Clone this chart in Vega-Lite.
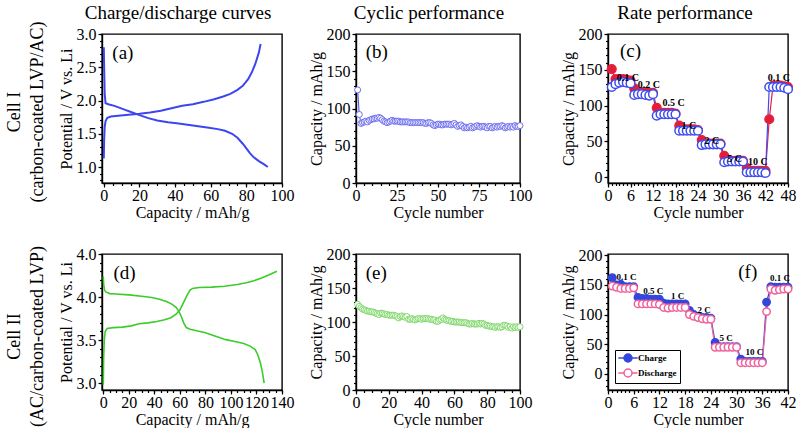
{
"$schema":"https://vega.github.io/schema/vega-lite/v6.json",
"padding":{"left":6,"top":3,"right":0,"bottom":0},
"config":{
 "font":"Liberation Serif",
 "view":{"stroke":"#000","strokeWidth":1.4},
 "axis":{"labelFont":"Liberation Serif","titleFont":"Liberation Serif","labelFontSize":16,"titleFontSize":16,"titleFontWeight":"normal","labelColor":"#000","titleColor":"#000","domainColor":"#000","domainWidth":1.4,"tickColor":"#000","tickWidth":1.2,"grid":false,"labelFlush":false,"tickSize":4},
 "axisX":{"labelPadding":0,"titlePadding":1},
 "axisY":{"labelPadding":2,"titlePadding":2},
 "title":{"font":"Liberation Serif","fontSize":18,"fontWeight":"normal","color":"#000"}
},
"datasets":{
 "a":[
  {"s":"ch","x":0,"y":1.13},{"s":"ch","x":0.2,"y":1.4},{"s":"ch","x":0.5,"y":1.6},{"s":"ch","x":1,"y":1.69},{"s":"ch","x":2,"y":1.74},{"s":"ch","x":4,"y":1.76},{"s":"ch","x":8,"y":1.77},{"s":"ch","x":14,"y":1.785},{"s":"ch","x":20,"y":1.8},{"s":"ch","x":26,"y":1.82},{"s":"ch","x":32,"y":1.845},{"s":"ch","x":38,"y":1.885},{"s":"ch","x":44,"y":1.92},{"s":"ch","x":50,"y":1.945},{"s":"ch","x":56,"y":1.98},{"s":"ch","x":62,"y":2.02},{"s":"ch","x":67,"y":2.06},{"s":"ch","x":71,"y":2.1},{"s":"ch","x":75,"y":2.16},{"s":"ch","x":78,"y":2.22},{"s":"ch","x":81,"y":2.32},{"s":"ch","x":83,"y":2.42},{"s":"ch","x":85,"y":2.55},{"s":"ch","x":87,"y":2.72},{"s":"ch","x":88,"y":2.85},
  {"s":"dis","x":0,"y":2.8},{"s":"dis","x":0.2,"y":2.5},{"s":"dis","x":0.5,"y":2.1},{"s":"dis","x":1,"y":1.96},{"s":"dis","x":3,"y":1.94},{"s":"dis","x":6,"y":1.92},{"s":"dis","x":9,"y":1.89},{"s":"dis","x":12,"y":1.86},{"s":"dis","x":16,"y":1.82},{"s":"dis","x":20,"y":1.78},{"s":"dis","x":25,"y":1.735},{"s":"dis","x":30,"y":1.7},{"s":"dis","x":36,"y":1.675},{"s":"dis","x":42,"y":1.655},{"s":"dis","x":50,"y":1.625},{"s":"dis","x":58,"y":1.595},{"s":"dis","x":64,"y":1.57},{"s":"dis","x":68,"y":1.545},{"s":"dis","x":72,"y":1.5},{"s":"dis","x":75,"y":1.44},{"s":"dis","x":78,"y":1.35},{"s":"dis","x":80,"y":1.28},{"s":"dis","x":82,"y":1.21},{"s":"dis","x":84,"y":1.15},{"s":"dis","x":87,"y":1.09},{"s":"dis","x":90,"y":1.04},{"s":"dis","x":92,"y":1.0}
 ],
 "d":[
  {"s":"ch","x":0,"y":2.98},{"s":"ch","x":0.3,"y":3.3},{"s":"ch","x":0.8,"y":3.5},{"s":"ch","x":1.5,"y":3.6},{"s":"ch","x":3,"y":3.635},{"s":"ch","x":8,"y":3.645},{"s":"ch","x":15,"y":3.65},{"s":"ch","x":22,"y":3.665},{"s":"ch","x":28,"y":3.69},{"s":"ch","x":35,"y":3.7},{"s":"ch","x":42,"y":3.715},{"s":"ch","x":48,"y":3.735},{"s":"ch","x":53,"y":3.76},{"s":"ch","x":57,"y":3.8},{"s":"ch","x":60,"y":3.85},{"s":"ch","x":62,"y":3.91},{"s":"ch","x":64,"y":3.97},{"s":"ch","x":66,"y":4.03},{"s":"ch","x":68,"y":4.08},{"s":"ch","x":70,"y":4.1},{"s":"ch","x":75,"y":4.11},{"s":"ch","x":85,"y":4.115},{"s":"ch","x":95,"y":4.125},{"s":"ch","x":105,"y":4.145},{"s":"ch","x":112,"y":4.165},{"s":"ch","x":118,"y":4.19},{"s":"ch","x":124,"y":4.22},{"s":"ch","x":130,"y":4.26},{"s":"ch","x":136,"y":4.3},
  {"s":"dis","x":0,"y":4.24},{"s":"dis","x":0.3,"y":4.15},{"s":"dis","x":1,"y":4.08},{"s":"dis","x":2,"y":4.06},{"s":"dis","x":5,"y":4.04},{"s":"dis","x":10,"y":4.035},{"s":"dis","x":20,"y":4.025},{"s":"dis","x":30,"y":4.01},{"s":"dis","x":38,"y":3.995},{"s":"dis","x":44,"y":3.975},{"s":"dis","x":50,"y":3.945},{"s":"dis","x":54,"y":3.915},{"s":"dis","x":57,"y":3.88},{"s":"dis","x":59,"y":3.84},{"s":"dis","x":61,"y":3.78},{"s":"dis","x":63,"y":3.7},{"s":"dis","x":65,"y":3.645},{"s":"dis","x":68,"y":3.625},{"s":"dis","x":74,"y":3.605},{"s":"dis","x":80,"y":3.585},{"s":"dis","x":88,"y":3.545},{"s":"dis","x":96,"y":3.505},{"s":"dis","x":104,"y":3.48},{"s":"dis","x":110,"y":3.46},{"s":"dis","x":115,"y":3.43},{"s":"dis","x":119,"y":3.39},{"s":"dis","x":121,"y":3.33},{"s":"dis","x":123,"y":3.24},{"s":"dis","x":124.5,"y":3.14},{"s":"dis","x":125.5,"y":3.05},{"s":"dis","x":126,"y":3.0}
 ],
 "b":[
  {"c":1,"v":125},{"c":2,"v":92},{"c":3,"v":80},{"c":4,"v":81},{"c":5,"v":82},{"c":6,"v":83},{"c":7,"v":82},{"c":8,"v":84},{"c":9,"v":85},{"c":10,"v":86},
  {"c":11,"v":86},{"c":12,"v":87},{"c":13,"v":87},{"c":14,"v":88},{"c":15,"v":87},{"c":16,"v":85},{"c":17,"v":83},{"c":18,"v":82},{"c":19,"v":81},{"c":20,"v":82},
  {"c":21,"v":83},{"c":22,"v":84},{"c":23,"v":83},{"c":24,"v":83},{"c":25,"v":83},{"c":26,"v":83},{"c":27,"v":82},{"c":28,"v":82},{"c":29,"v":82},{"c":30,"v":82},
  {"c":31,"v":82},{"c":32,"v":82},{"c":33,"v":81},{"c":34,"v":81},{"c":35,"v":81},{"c":36,"v":81},{"c":37,"v":81},{"c":38,"v":81},{"c":39,"v":81},{"c":40,"v":81},
  {"c":41,"v":81},{"c":42,"v":80},{"c":43,"v":80},{"c":44,"v":81},{"c":45,"v":81},{"c":46,"v":80},{"c":47,"v":78},{"c":48,"v":77},{"c":49,"v":78},{"c":50,"v":79},
  {"c":51,"v":79},{"c":52,"v":78},{"c":53,"v":78},{"c":54,"v":79},{"c":55,"v":79},{"c":56,"v":79},{"c":57,"v":79},{"c":58,"v":78},{"c":59,"v":79},{"c":60,"v":80},
  {"c":61,"v":78},{"c":62,"v":76},{"c":63,"v":77},{"c":64,"v":78},{"c":65,"v":76},{"c":66,"v":74},{"c":67,"v":75},{"c":68,"v":74},{"c":69,"v":75},{"c":70,"v":76},
  {"c":71,"v":74},{"c":72,"v":75},{"c":73,"v":76},{"c":74,"v":77},{"c":75,"v":76},{"c":76,"v":75},{"c":77,"v":76},{"c":78,"v":76},{"c":79,"v":75},{"c":80,"v":74},
  {"c":81,"v":76},{"c":82,"v":76},{"c":83,"v":74},{"c":84,"v":75},{"c":85,"v":76},{"c":86,"v":75},{"c":87,"v":76},{"c":88,"v":76},{"c":89,"v":77},{"c":90,"v":76},
  {"c":91,"v":74},{"c":92,"v":75},{"c":93,"v":76},{"c":94,"v":75},{"c":95,"v":76},{"c":96,"v":75},{"c":97,"v":77},{"c":98,"v":76},{"c":99,"v":76},{"c":100,"v":77}
 ],
 "e":[
  {"c":1,"v":126},{"c":2,"v":123},{"c":3,"v":121},{"c":4,"v":119},{"c":5,"v":118},{"c":6,"v":117},{"c":7,"v":116},{"c":8,"v":116},{"c":9,"v":115},{"c":10,"v":115},
  {"c":11,"v":114},{"c":12,"v":113},{"c":13,"v":112},{"c":14,"v":111},{"c":15,"v":113},{"c":16,"v":113},{"c":17,"v":112},{"c":18,"v":111},{"c":19,"v":111},{"c":20,"v":110},
  {"c":21,"v":110},{"c":22,"v":110},{"c":23,"v":110},{"c":24,"v":109},{"c":25,"v":108},{"c":26,"v":106},{"c":27,"v":108},{"c":28,"v":109},{"c":29,"v":108},{"c":30,"v":107},
  {"c":31,"v":108},{"c":32,"v":104},{"c":33,"v":104},{"c":34,"v":105},{"c":35,"v":104},{"c":36,"v":103},{"c":37,"v":104},{"c":38,"v":105},{"c":39,"v":105},{"c":40,"v":104},
  {"c":41,"v":105},{"c":42,"v":105},{"c":43,"v":105},{"c":44,"v":105},{"c":45,"v":104},{"c":46,"v":104},{"c":47,"v":103},{"c":48,"v":103},{"c":49,"v":101},{"c":50,"v":101},
  {"c":51,"v":103},{"c":52,"v":104},{"c":53,"v":106},{"c":54,"v":104},{"c":55,"v":103},{"c":56,"v":102},{"c":57,"v":102},{"c":58,"v":101},{"c":59,"v":101},{"c":60,"v":100},
  {"c":61,"v":100},{"c":62,"v":100},{"c":63,"v":100},{"c":64,"v":99},{"c":65,"v":99},{"c":66,"v":99},{"c":67,"v":99},{"c":68,"v":98},{"c":69,"v":97},{"c":70,"v":97},
  {"c":71,"v":98},{"c":72,"v":97},{"c":73,"v":97},{"c":74,"v":97},{"c":75,"v":98},{"c":76,"v":97},{"c":77,"v":98},{"c":78,"v":97},{"c":79,"v":95},{"c":80,"v":95},
  {"c":81,"v":94},{"c":82,"v":94},{"c":83,"v":93},{"c":84,"v":93},{"c":85,"v":92},{"c":86,"v":93},{"c":87,"v":93},{"c":88,"v":92},{"c":89,"v":93},{"c":90,"v":95},
  {"c":91,"v":95},{"c":92,"v":94},{"c":93,"v":92},{"c":94,"v":93},{"c":95,"v":91},{"c":96,"v":93},{"c":97,"v":92},{"c":98,"v":93},{"c":99,"v":92},{"c":100,"v":93}
 ],
 "c":[
  {"s":"R","c":1,"v":151},{"s":"R","c":2,"v":137},{"s":"R","c":3,"v":137},{"s":"R","c":4,"v":137},{"s":"R","c":5,"v":136},{"s":"R","c":6,"v":135},
  {"s":"R","c":7,"v":124},{"s":"R","c":8,"v":119},{"s":"R","c":9,"v":119},{"s":"R","c":10,"v":119},{"s":"R","c":11,"v":118},{"s":"R","c":12,"v":118},
  {"s":"R","c":13,"v":97},{"s":"R","c":14,"v":90},{"s":"R","c":15,"v":90},{"s":"R","c":16,"v":90},{"s":"R","c":17,"v":90},{"s":"R","c":18,"v":89},
  {"s":"R","c":19,"v":72},{"s":"R","c":20,"v":67},{"s":"R","c":21,"v":67},{"s":"R","c":22,"v":67},{"s":"R","c":23,"v":67},{"s":"R","c":24,"v":66},
  {"s":"R","c":25,"v":52},{"s":"R","c":26,"v":47},{"s":"R","c":27,"v":47},{"s":"R","c":28,"v":47},{"s":"R","c":29,"v":47},{"s":"R","c":30,"v":47},
  {"s":"R","c":31,"v":30},{"s":"R","c":32,"v":23},{"s":"R","c":33,"v":23},{"s":"R","c":34,"v":23},{"s":"R","c":35,"v":23},{"s":"R","c":36,"v":23},
  {"s":"R","c":37,"v":13},{"s":"R","c":38,"v":9},{"s":"R","c":39,"v":9},{"s":"R","c":40,"v":9},{"s":"R","c":41,"v":9},{"s":"R","c":42,"v":9},
  {"s":"R","c":43,"v":81},{"s":"R","c":44,"v":128},{"s":"R","c":45,"v":128},{"s":"R","c":46,"v":128},{"s":"R","c":47,"v":127},{"s":"R","c":48,"v":126},
  {"s":"B","c":1,"v":126},{"s":"B","c":2,"v":130},{"s":"B","c":3,"v":132},{"s":"B","c":4,"v":133},{"s":"B","c":5,"v":132},{"s":"B","c":6,"v":131},
  {"s":"B","c":7,"v":115},{"s":"B","c":8,"v":116},{"s":"B","c":9,"v":116},{"s":"B","c":10,"v":115},{"s":"B","c":11,"v":114},{"s":"B","c":12,"v":116},
  {"s":"B","c":13,"v":86},{"s":"B","c":14,"v":88},{"s":"B","c":15,"v":88},{"s":"B","c":16,"v":88},{"s":"B","c":17,"v":88},{"s":"B","c":18,"v":88},
  {"s":"B","c":19,"v":65},{"s":"B","c":20,"v":65},{"s":"B","c":21,"v":65},{"s":"B","c":22,"v":65},{"s":"B","c":23,"v":65},{"s":"B","c":24,"v":65},
  {"s":"B","c":25,"v":45},{"s":"B","c":26,"v":46},{"s":"B","c":27,"v":46},{"s":"B","c":28,"v":46},{"s":"B","c":29,"v":46},{"s":"B","c":30,"v":46},
  {"s":"B","c":31,"v":21},{"s":"B","c":32,"v":22},{"s":"B","c":33,"v":22},{"s":"B","c":34,"v":22},{"s":"B","c":35,"v":22},{"s":"B","c":36,"v":22},
  {"s":"B","c":37,"v":7},{"s":"B","c":38,"v":7},{"s":"B","c":39,"v":7},{"s":"B","c":40,"v":7},{"s":"B","c":41,"v":7},{"s":"B","c":42,"v":6},
  {"s":"B","c":43,"v":126},{"s":"B","c":44,"v":126},{"s":"B","c":45,"v":126},{"s":"B","c":46,"v":126},{"s":"B","c":47,"v":125},{"s":"B","c":48,"v":123}
 ],
 "f":[
  {"s":"Charge","c":1,"v":162},{"s":"Charge","c":2,"v":150},{"s":"Charge","c":3,"v":151},{"s":"Charge","c":4,"v":147},{"s":"Charge","c":5,"v":147},{"s":"Charge","c":6,"v":147},
  {"s":"Charge","c":7,"v":129},{"s":"Charge","c":8,"v":127},{"s":"Charge","c":9,"v":127},{"s":"Charge","c":10,"v":126},{"s":"Charge","c":11,"v":126},{"s":"Charge","c":12,"v":126},
  {"s":"Charge","c":13,"v":119},{"s":"Charge","c":14,"v":118},{"s":"Charge","c":15,"v":118},{"s":"Charge","c":16,"v":118},{"s":"Charge","c":17,"v":118},{"s":"Charge","c":18,"v":118},
  {"s":"Charge","c":19,"v":107},{"s":"Charge","c":20,"v":100},{"s":"Charge","c":21,"v":97},{"s":"Charge","c":22,"v":95},{"s":"Charge","c":23,"v":95},{"s":"Charge","c":24,"v":94},
  {"s":"Charge","c":25,"v":53},{"s":"Charge","c":26,"v":46},{"s":"Charge","c":27,"v":46},{"s":"Charge","c":28,"v":46},{"s":"Charge","c":29,"v":46},{"s":"Charge","c":30,"v":46},
  {"s":"Charge","c":31,"v":25},{"s":"Charge","c":32,"v":21},{"s":"Charge","c":33,"v":21},{"s":"Charge","c":34,"v":21},{"s":"Charge","c":35,"v":21},{"s":"Charge","c":36,"v":21},
  {"s":"Charge","c":37,"v":121},{"s":"Charge","c":38,"v":147},{"s":"Charge","c":39,"v":146},{"s":"Charge","c":40,"v":146},{"s":"Charge","c":41,"v":146},{"s":"Charge","c":42,"v":146},
  {"s":"Discharge","c":1,"v":148},{"s":"Discharge","c":2,"v":146},{"s":"Discharge","c":3,"v":144},{"s":"Discharge","c":4,"v":144},{"s":"Discharge","c":5,"v":144},{"s":"Discharge","c":6,"v":145},
  {"s":"Discharge","c":7,"v":118},{"s":"Discharge","c":8,"v":118},{"s":"Discharge","c":9,"v":118},{"s":"Discharge","c":10,"v":118},{"s":"Discharge","c":11,"v":118},{"s":"Discharge","c":12,"v":117},
  {"s":"Discharge","c":13,"v":112},{"s":"Discharge","c":14,"v":111},{"s":"Discharge","c":15,"v":112},{"s":"Discharge","c":16,"v":112},{"s":"Discharge","c":17,"v":112},{"s":"Discharge","c":18,"v":112},
  {"s":"Discharge","c":19,"v":100},{"s":"Discharge","c":20,"v":97},{"s":"Discharge","c":21,"v":95},{"s":"Discharge","c":22,"v":93},{"s":"Discharge","c":23,"v":92},{"s":"Discharge","c":24,"v":92},
  {"s":"Discharge","c":25,"v":45},{"s":"Discharge","c":26,"v":45},{"s":"Discharge","c":27,"v":45},{"s":"Discharge","c":28,"v":45},{"s":"Discharge","c":29,"v":45},{"s":"Discharge","c":30,"v":45},
  {"s":"Discharge","c":31,"v":19},{"s":"Discharge","c":32,"v":19},{"s":"Discharge","c":33,"v":19},{"s":"Discharge","c":34,"v":19},{"s":"Discharge","c":35,"v":19},{"s":"Discharge","c":36,"v":19},
  {"s":"Discharge","c":37,"v":105},{"s":"Discharge","c":38,"v":143},{"s":"Discharge","c":39,"v":141},{"s":"Discharge","c":40,"v":142},{"s":"Discharge","c":41,"v":143},{"s":"Discharge","c":42,"v":143}
 ],
 "cl":[
  {"t":"0.1 C","c":2.3,"v":139},{"t":"0.2 C","c":7.9,"v":128.5},{"t":"0.5 C","c":14.5,"v":104},{"t":"1 C","c":19.6,"v":71.5},{"t":"2 C","c":25.7,"v":50.5},{"t":"5 C","c":31.8,"v":25.8},{"t":"10 C","c":37.3,"v":21.6},{"t":"0.1 C","c":42.6,"v":139}
 ],
 "fl":[
  {"t":"0.1 C","c":2.0,"v":163},{"t":"0.5 C","c":8.2,"v":139},{"t":"1 C","c":14.7,"v":132},{"t":"2 C","c":20.9,"v":108},{"t":"5 C","c":26,"v":61},{"t":"10 C","c":32.1,"v":37},{"t":"0.1 C","c":37.8,"v":161}
 ]
},
"spacing":24,
"resolve":{"scale":{"stroke":"independent","fill":"independent"},"legend":{"stroke":"independent","fill":"independent"}},
"vconcat":[
 {
  "title":{"text":["Cell I","(carbon-coated LVP/AC)"],"orient":"left","anchor":"middle","fontSize":18,"lineHeight":23,"offset":10},
  "spacing":26,
  "resolve":{"scale":{"stroke":"independent","fill":"independent"},"legend":{"stroke":"independent","fill":"independent"}},
  "hconcat":[
   {"spacing":74,"bounds":"flush","hconcat":[
    {"width":180,"height":149,"title":{"text":"Charge/discharge curves","offset":3,"fontSize":19,"dx":-14},
     "resolve":{"axis":{"x":"independent","y":"independent"}},
     "layer":[
      {"data":{"name":"a"},"mark":{"type":"line","color":"#3c46f0","strokeWidth":2},
       "encoding":{
        "x":{"field":"x","type":"quantitative","scale":{"domain":[-1,100],"nice":false,"zero":false},
             "axis":{"title":"Capacity / mAh/g","orient":"bottom","values":[0,20,40,60,80,100]}},
        "y":{"field":"y","type":"quantitative","scale":{"domain":[0.76,3.0],"nice":false,"zero":false},
             "axis":{"title":"Potential / V vs. Li","orient":"left","values":[1.0,1.5,2.0,2.5,3.0],"format":".1f"}},
        "detail":{"field":"s"}}},
      {"data":{"values":[{"t":"(a)","x":4.8,"y":2.72}]},"mark":{"type":"text","align":"left","baseline":"middle","fontSize":19,"font":"Liberation Serif"},
       "encoding":{"x":{"field":"x","type":"quantitative","axis":{"orient":"bottom","values":[0,5,10,15,20,25,30,35,40,45,50,55,60,65,70,75,80,85,90,95,100],"labels":false,"domain":false,"title":null,"tickSize":2.5}},
                   "y":{"field":"y","type":"quantitative","axis":{"orient":"left","values":[0.8,0.9,1.0,1.1,1.2,1.3,1.4,1.5,1.6,1.7,1.8,1.9,2.0,2.1,2.2,2.3,2.4,2.5,2.6,2.7,2.8,2.9,3.0],"labels":false,"domain":false,"title":null,"tickSize":2.5}},"text":{"field":"t"}}}
     ]},
    {"width":164,"height":149,"title":{"text":"Cyclic performance","offset":3,"fontSize":19,"dx":-9},
     "resolve":{"axis":{"x":"independent","y":"independent"}},
     "layer":[
      {"data":{"name":"b"},"mark":{"type":"line","color":"#4a4aee","strokeWidth":1},
       "encoding":{
        "x":{"field":"c","type":"quantitative","scale":{"domain":[0,100],"nice":false,"zero":false},
             "axis":{"title":"Cycle number","orient":"bottom","values":[0,25,50,75,100]}},
        "y":{"field":"v","type":"quantitative","scale":{"domain":[0,200],"nice":false,"zero":false},
             "axis":{"title":"Capacity / mAh/g","orient":"left","values":[0,50,100,150,200]}}}},
      {"data":{"name":"b"},"mark":{"type":"point","shape":"circle","size":36,"strokeWidth":1,"color":"#6f6ff0","fill":"#ffffff","filled":false,"opacity":1},
       "encoding":{"x":{"field":"c","type":"quantitative","axis":null},"y":{"field":"v","type":"quantitative","axis":null}}},
      {"data":{"values":[{"t":"(b)","c":5.9,"v":176}]},"mark":{"type":"text","align":"left","baseline":"middle","fontSize":19,"font":"Liberation Serif"},
       "encoding":{"x":{"field":"c","type":"quantitative","axis":{"orient":"bottom","values":[0,5,10,15,20,25,30,35,40,45,50,55,60,65,70,75,80,85,90,95,100],"labels":false,"domain":false,"title":null,"tickSize":2.5}},
                   "y":{"field":"v","type":"quantitative","axis":{"orient":"left","values":[0,10,20,30,40,50,60,70,80,90,100,110,120,130,140,150,160,170,180,190,200],"labels":false,"domain":false,"title":null,"tickSize":2.5}},"text":{"field":"t"}}}
     ]}
   ]},
   {"width":180,"height":149,"title":{"text":"Rate performance","offset":3,"fontSize":19,"dx":-13},
    "resolve":{"axis":{"x":"independent","y":"independent"}},
    "layer":[
     {"data":{"name":"c"},"mark":{"type":"line","strokeWidth":1.2},
      "encoding":{
       "x":{"field":"c","type":"quantitative","scale":{"domain":[0,48],"nice":false,"zero":false},
            "axis":{"title":"Cycle number","orient":"bottom","values":[0,6,12,18,24,30,36,42,48]}},
       "y":{"field":"v","type":"quantitative","scale":{"domain":[-8,200],"nice":false,"zero":false},
            "axis":{"title":"Capacity / mAh/g","orient":"left","values":[0,50,100,150,200]}},
       "stroke":{"field":"s","type":"nominal","scale":{"domain":["R","B"],"range":["#e8203c","#3c4cf0"]},"legend":null}}},
     {"data":{"name":"c"},"mark":{"type":"point","shape":"circle","size":75,"strokeWidth":1.5,"opacity":1},
      "encoding":{"x":{"field":"c","type":"quantitative","axis":null},"y":{"field":"v","type":"quantitative","axis":null},
       "stroke":{"field":"s","type":"nominal","scale":{"domain":["R","B"],"range":["#e8203c","#3c4cf0"]},"legend":null},
       "fill":{"field":"s","type":"nominal","scale":{"domain":["R","B"],"range":["#e01e3c","#ffffff"]},"legend":null}}},
     {"data":{"name":"cl"},"mark":{"type":"text","align":"left","baseline":"middle","fontSize":10,"fontWeight":"bold","font":"Liberation Serif"},
      "encoding":{"x":{"field":"c","type":"quantitative","axis":null},"y":{"field":"v","type":"quantitative","axis":null},"text":{"field":"t"}}},
     {"data":{"values":[{"t":"(c)","c":3.2,"v":176.6}]},"mark":{"type":"text","align":"left","baseline":"middle","fontSize":19,"font":"Liberation Serif"},
      "encoding":{"x":{"field":"c","type":"quantitative","axis":{"orient":"bottom","values":[0,1,2,3,4,5,6,7,8,9,10,11,12,13,14,15,16,17,18,19,20,21,22,23,24,25,26,27,28,29,30,31,32,33,34,35,36,37,38,39,40,41,42,43,44,45,46,47,48],"labels":false,"domain":false,"title":null,"tickSize":2.5}},
                  "y":{"field":"v","type":"quantitative","axis":{"orient":"left","values":[0,10,20,30,40,50,60,70,80,90,100,110,120,130,140,150,160,170,180,190,200],"labels":false,"domain":false,"title":null,"tickSize":2.5}},"text":{"field":"t"}}}
    ]}
  ]
 },
 {
  "title":{"text":["Cell II","(AC/carbon-coated LVP)"],"orient":"left","anchor":"middle","fontSize":18,"lineHeight":23,"offset":10},
  "spacing":26,
  "resolve":{"scale":{"stroke":"independent","fill":"independent"},"legend":{"stroke":"independent","fill":"independent"}},
  "hconcat":[
   {"spacing":74,"bounds":"flush","hconcat":[
    {"width":180,"height":136,
     "resolve":{"axis":{"x":"independent","y":"independent"}},
     "layer":[
      {"data":{"name":"d"},"mark":{"type":"line","color":"#3ccc2a","strokeWidth":1.6},
       "encoding":{
        "x":{"field":"x","type":"quantitative","scale":{"domain":[-1,140],"nice":false,"zero":false},
             "axis":{"title":"Capacity / mAh/g","orient":"bottom","values":[0,20,40,60,80,100,120,140]}},
        "y":{"field":"y","type":"quantitative","scale":{"domain":[2.92,4.5],"nice":false,"zero":false},
             "axis":{"title":"Potential / V vs. Li","orient":"left","values":[3.0,3.5,4.0,4.5],"format":".1f","labelExpr":"datum.value > 4.4 ? '4.0' : datum.label"}},
        "detail":{"field":"s"}}},
      {"data":{"values":[{"t":"(d)","x":8,"y":4.28}]},"mark":{"type":"text","align":"left","baseline":"middle","fontSize":19,"font":"Liberation Serif"},
       "encoding":{"x":{"field":"x","type":"quantitative","axis":{"orient":"bottom","values":[0,5,10,15,20,25,30,35,40,45,50,55,60,65,70,75,80,85,90,95,100,105,110,115,120,125,130,135,140],"labels":false,"domain":false,"title":null,"tickSize":2.5}},
                   "y":{"field":"y","type":"quantitative","axis":{"orient":"left","values":[3.0,3.1,3.2,3.3,3.4,3.5,3.6,3.7,3.8,3.9,4.0,4.1,4.2,4.3,4.4,4.5],"labels":false,"domain":false,"title":null,"tickSize":2.5}},"text":{"field":"t"}}}
     ]},
    {"width":164,"height":136,
     "resolve":{"axis":{"x":"independent","y":"independent"}},
     "layer":[
      {"data":{"name":"e"},"mark":{"type":"line","color":"#55cc44","strokeWidth":1},
       "encoding":{
        "x":{"field":"c","type":"quantitative","scale":{"domain":[0,100],"nice":false,"zero":false},
             "axis":{"title":"Cycle number","orient":"bottom","values":[0,20,40,60,80,100]}},
        "y":{"field":"v","type":"quantitative","scale":{"domain":[0,200],"nice":false,"zero":false},
             "axis":{"title":"Capacity / mAh/g","orient":"left","values":[0,50,100,150,200]}}}},
      {"data":{"name":"e"},"mark":{"type":"point","shape":"circle","size":36,"strokeWidth":1,"color":"#80d86c","fill":"#ffffff","filled":false,"opacity":1},
       "encoding":{"x":{"field":"c","type":"quantitative","axis":null},"y":{"field":"v","type":"quantitative","axis":null}}},
      {"data":{"values":[{"t":"(e)","c":5.9,"v":172.5}]},"mark":{"type":"text","align":"left","baseline":"middle","fontSize":19,"font":"Liberation Serif"},
       "encoding":{"x":{"field":"c","type":"quantitative","axis":{"orient":"bottom","values":[0,5,10,15,20,25,30,35,40,45,50,55,60,65,70,75,80,85,90,95,100],"labels":false,"domain":false,"title":null,"tickSize":2.5}},
                   "y":{"field":"v","type":"quantitative","axis":{"orient":"left","values":[0,10,20,30,40,50,60,70,80,90,100,110,120,130,140,150,160,170,180,190,200],"labels":false,"domain":false,"title":null,"tickSize":2.5}},"text":{"field":"t"}}}
     ]}
   ]},
   {"width":180,"height":136,
    "resolve":{"axis":{"x":"independent","y":"independent"}},
    "layer":[
     {"data":{"name":"f"},"mark":{"type":"line","strokeWidth":1.3},
      "encoding":{
       "x":{"field":"c","type":"quantitative","scale":{"domain":[0,42],"nice":false,"zero":false},
            "axis":{"title":"Cycle number","orient":"bottom","values":[0,6,12,18,24,30,36,42]}},
       "y":{"field":"v","type":"quantitative","scale":{"domain":[-27,202],"nice":false,"zero":false},
            "axis":{"title":"Capacity / mAh/g","orient":"left","values":[0,50,100,150,200]}},
       "stroke":{"field":"s","type":"nominal","scale":{"domain":["Charge","Discharge"],"range":["#3347dd","#f0609a"]},
        "legend":{"orient":"bottom-left","offset":7,"title":null,"symbolType":"M-2.4,0L-1,0M1,0L2.4,0M-1,0A1,1,0,1,1,1,0A1,1,0,1,1,-1,0Z","symbolSize":64,"symbolStrokeWidth":1.5,"symbolOffset":5,"labelOffset":5,"labelFont":"Liberation Serif","labelFontSize":9,"labelFontWeight":"bold","labelColor":"#000","strokeColor":"#000","fillColor":"#ffffff","padding":3,"rowPadding":1,
         "encode":{"symbols":{"update":{"fill":{"signal":"datum.value === 'Charge' ? '#3347dd' : '#ffffff'"}}}}}}}},
     {"data":{"name":"f"},"mark":{"type":"point","shape":"circle","size":55,"strokeWidth":1.5,"opacity":1},
      "encoding":{"x":{"field":"c","type":"quantitative","axis":null},"y":{"field":"v","type":"quantitative","axis":null},
       "stroke":{"field":"s","type":"nominal","scale":{"domain":["Charge","Discharge"],"range":["#3347dd","#f0609a"]},
        "legend":{"orient":"bottom-left","offset":7,"title":null,"symbolType":"M-2.4,0L-1,0M1,0L2.4,0M-1,0A1,1,0,1,1,1,0A1,1,0,1,1,-1,0Z","symbolSize":64,"symbolStrokeWidth":1.5,"symbolOffset":5,"labelOffset":5,"labelFont":"Liberation Serif","labelFontSize":9,"labelFontWeight":"bold","labelColor":"#000","strokeColor":"#000","fillColor":"#ffffff","padding":3,"rowPadding":1,
         "encode":{"symbols":{"update":{"fill":{"signal":"datum.value === 'Charge' ? '#3347dd' : '#ffffff'"}}}}}},
       "fill":{"field":"s","type":"nominal","scale":{"domain":["Charge","Discharge"],"range":["#3347dd","#ffffff"]},"legend":null}}},
     {"data":{"name":"fl"},"mark":{"type":"text","align":"left","baseline":"middle","fontSize":9,"fontWeight":"bold","font":"Liberation Serif"},
      "encoding":{"x":{"field":"c","type":"quantitative","axis":null},"y":{"field":"v","type":"quantitative","axis":null},"text":{"field":"t"}}},
     {"data":{"values":[{"t":"(f)","c":30.4,"v":171}]},"mark":{"type":"text","align":"left","baseline":"middle","fontSize":19,"font":"Liberation Serif"},
      "encoding":{"x":{"field":"c","type":"quantitative","axis":{"orient":"bottom","values":[0,1,2,3,4,5,6,7,8,9,10,11,12,13,14,15,16,17,18,19,20,21,22,23,24,25,26,27,28,29,30,31,32,33,34,35,36,37,38,39,40,41,42],"labels":false,"domain":false,"title":null,"tickSize":2.5}},
                  "y":{"field":"v","type":"quantitative","axis":{"orient":"left","values":[-20,-10,0,10,20,30,40,50,60,70,80,90,100,110,120,130,140,150,160,170,180,190,200],"labels":false,"domain":false,"title":null,"tickSize":2.5}},"text":{"field":"t"}}}
    ]}
  ]
 }
]
}
